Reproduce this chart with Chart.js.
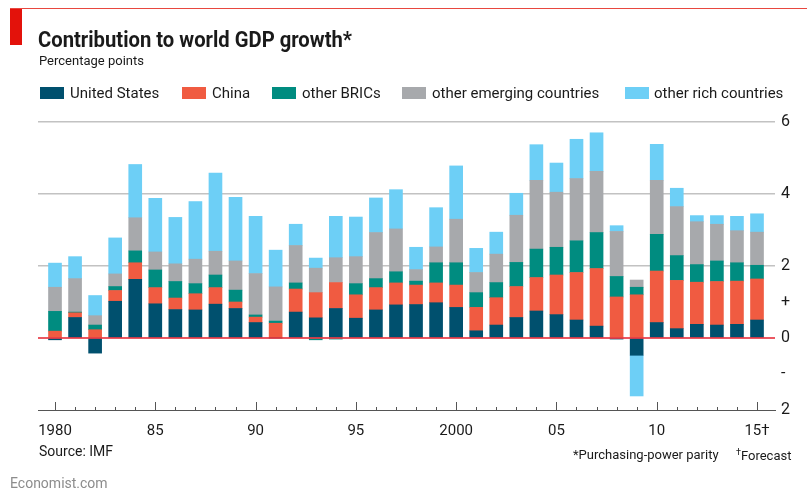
<!DOCTYPE html>
<html>
<head>
<meta charset="utf-8">
<script src="https://cdn.jsdelivr.net/npm/chart.js@4.4.1/dist/chart.umd.min.js"></script>
<style>
  body { margin: 0; background: #fff; }
  #wrap { position: relative; width: 807px; height: 493px; overflow: hidden; font-family: Roboto, "Noto Sans", sans-serif; color: #1a1a1a; }
  #box { position: absolute; left: 0; top: 0; width: 807px; height: 493px; }
  .t { position: absolute; white-space: nowrap; line-height: 1; transform-origin: 0 0; }
  .sw { position: absolute; width: 24px; height: 12px; top: 87px; }
</style>
</head>
<body>
<div id="wrap">
  <div id="box"><canvas id="chart1"></canvas></div>
  <div style="position:absolute;left:10px;top:8px;width:797px;height:1px;background:#e8473f"></div>
  <div style="position:absolute;left:10px;top:9px;width:12px;height:36px;background:#e3120b"></div>
  <div class="t" id="title" style="left:38px;top:28.5px;font-size:22px;font-weight:700">Contribution to world GDP growth*</div>
  <div class="t" style="left:39px;top:54px;font-size:13px">Percentage points</div>

  <div class="sw" style="left:40px;background:#00506e"></div>
  <div class="t" style="left:70px;top:86.4px;font-size:15px">United States</div>
  <div class="sw" style="left:182px;background:#f05b41"></div>
  <div class="t" style="left:212px;top:86.4px;font-size:15px">China</div>
  <div class="sw" style="left:272px;background:#008c80"></div>
  <div class="t" style="left:302px;top:86.4px;font-size:15px">other BRICs</div>
  <div class="sw" style="left:402px;background:#a7a9ac"></div>
  <div class="t" style="left:432px;top:86.4px;font-size:15px">other emerging countries</div>
  <div class="sw" style="left:625px;background:#6dcff6"></div>
  <div class="t" style="left:654px;top:86.4px;font-size:15px">other rich countries</div>

  <div class="t" style="left:39px;top:444px;font-size:14px">Source: IMF</div>
  <div class="t" style="left:573px;top:448px;font-size:13px">*Purchasing-power parity</div>
  <div class="t" style="left:736px;top:448px;font-size:13px"><sup style="font-size:9px">†</sup>Forecast</div>
  <div class="t" style="left:10px;top:476px;font-size:14px;color:#8c8c8c">Economist.com</div>
</div>
<script>
var years = [1980, 1981, 1982, 1983, 1984, 1985, 1986, 1987, 1988, 1989,
             1990, 1991, 1992, 1993, 1994, 1995, 1996, 1997, 1998, 1999,
             2000, 2001, 2002, 2003, 2004, 2005, 2006, 2007, 2008, 2009,
             2010, 2011, 2012, 2013, 2014, 2015];
var unitedStates = [-0.05, 0.57, -0.42, 1.02, 1.63, 0.95, 0.79, 0.78, 0.94, 0.82,
                    0.43, 0.00, 0.72, 0.56, 0.82, 0.55, 0.78, 0.92, 0.93, 0.98,
                    0.85, 0.20, 0.36, 0.57, 0.75, 0.65, 0.50, 0.33, -0.03, -0.48,
                    0.43, 0.26, 0.38, 0.36, 0.38, 0.50];
var china = [0.19, 0.13, 0.23, 0.30, 0.46, 0.45, 0.32, 0.45, 0.46, 0.18,
             0.15, 0.41, 0.64, 0.70, 0.72, 0.65, 0.62, 0.61, 0.54, 0.55,
             0.62, 0.65, 0.76, 0.86, 0.93, 1.10, 1.32, 1.60, 1.14, 1.20,
             1.43, 1.34, 1.17, 1.21, 1.20, 1.14];
var otherBrics = [0.55, 0.02, 0.13, 0.11, 0.33, 0.49, 0.46, 0.28, 0.35, 0.33,
                  0.06, 0.06, 0.17, -0.05, -0.03, 0.31, 0.25, 0.31, 0.11, 0.56,
                  0.62, 0.41, 0.42, 0.67, 0.79, 0.77, 0.88, 1.00, 0.57, 0.21,
                  1.02, 0.69, 0.49, 0.57, 0.51, 0.38];
var otherEmerging = [0.67, 0.93, 0.26, 0.35, 0.92, 0.50, 0.49, 0.68, 0.66, 0.81,
                     1.15, 0.95, 1.04, 0.68, 0.69, 0.75, 1.28, 1.19, 0.32, 0.44,
                     1.21, 0.56, 0.79, 1.31, 1.91, 1.53, 1.73, 1.70, 1.25, 0.20,
                     1.50, 1.36, 1.19, 1.02, 0.89, 0.92];
var otherRich = [0.67, 0.61, 0.56, 1.00, 1.48, 1.49, 1.29, 1.60, 2.17, 1.77,
                 1.59, 1.02, 0.59, 0.28, 1.15, 1.10, 0.96, 1.09, 0.62, 1.09,
                 1.48, 0.67, 0.61, 0.61, 0.99, 0.81, 1.09, 1.07, 0.16, -1.13,
                 1.00, 0.51, 0.17, 0.24, 0.40, 0.51];
var xTickYears = [1980, 1985, 1990, 1995, 2000, 2005, 2010, 2015];
var xTickText = ['1980', '85', '90', '95', '2000', '05', '10', '15†'];
var yTickValues = [6, 4, 2, 1, 0, -1, -2];
var yTickText = ['6', '4', '2', '+', '0', '-', '2'];

// squeeze the title to the width of the original (narrow face)
var ttl = document.getElementById('title');
ttl.style.transform = 'scaleX(' + (314 / ttl.getBoundingClientRect().width) + ')';

var yearMarks = {
    id: 'yearMarks',
    afterDraw: function(chart) {
        var xs = chart.scales.x, c = chart.ctx, bottom = chart.chartArea.bottom;
        c.save();
        c.strokeStyle = '#555';
        c.lineWidth = 1;
        for (var i = 0; i < years.length; i++) {
            var px = Math.round(xs.getPixelForValue(years[i])) + 0.5;
            var h = years[i] % 5 == 0 ? 8 : 3;
            c.beginPath();
            c.moveTo(px, bottom);
            c.lineTo(px, bottom - h);
            c.stroke();
        }
        c.restore();
    }
};

var zeroLine = {
    id: 'zeroLine',
    afterDatasetsDraw: function(chart) {
        var ys = chart.scales.y, c = chart.ctx, a = chart.chartArea;
        var py = ys.getPixelForValue(0);
        c.save();
        c.strokeStyle = '#e5202e';
        c.lineWidth = 1.5;
        c.beginPath();
        c.moveTo(a.left, py);
        c.lineTo(a.right, py);
        c.stroke();
        c.restore();
    }
};

var data = {
    labels: years,
    datasets: [
        { label: 'United States', data: unitedStates, backgroundColor: '#00506e' },
        { label: 'China', data: china, backgroundColor: '#f05b41' },
        { label: 'other BRICs', data: otherBrics, backgroundColor: '#008c80' },
        { label: 'other emerging countries', data: otherEmerging, backgroundColor: '#a7a9ac' },
        { label: 'other rich countries', data: otherRich, backgroundColor: '#6dcff6' }
    ]
};

var options = {
    responsive: true,
    maintainAspectRatio: false,
    animation: false,
    layout: { padding: { left: 38, right: 0, top: 122, bottom: 43 } },
    datasets: { bar: { barThickness: 13, borderWidth: 0 } },
    plugins: { legend: { display: false }, tooltip: { enabled: false } },
    scales: {
        x: {
            type: 'linear',
            stacked: true,
            offset: false,
            min: 1979.152,
            max: 2015.897,
            afterBuildTicks: function(scale) {
                scale.ticks = xTickYears.map(function(v) { return { value: v }; });
            },
            afterFit: function(scale) { scale.height = 40; },
            grid: { display: false, drawTicks: false, offset: false },
            border: { display: true, color: '#555', width: 1 },
            ticks: {
                autoSkip: false,
                maxRotation: 0,
                padding: 12,
                color: '#1a1a1a',
                font: { family: 'Roboto', size: 15 },
                callback: function(value) {
                    var k = xTickYears.indexOf(value);
                    return k < 0 ? '' : xTickText[k];
                }
            }
        },
        y: {
            position: 'right',
            stacked: true,
            min: -2,
            max: 6,
            afterBuildTicks: function(scale) {
                scale.ticks = yTickValues.map(function(v) { return { value: v }; });
            },
            afterFit: function(scale) { scale.width = 32; },
            grid: {
                drawTicks: false,
                lineWidth: 1.5,
                color: function(ctx) {
                    var v = ctx.tick && ctx.tick.value;
                    return (v == 2 || v == 4 || v == 6) ? '#c2c2c2' : 'rgba(0,0,0,0)';
                }
            },
            border: { display: false },
            ticks: {
                padding: 6,
                color: '#1a1a1a',
                font: { family: 'Roboto', size: 16 },
                callback: function(value) {
                    var k = yTickValues.indexOf(value);
                    return k < 0 ? '' : yTickText[k];
                }
            }
        }
    }
};

var ctx = document.getElementById('chart1');
var barChart = new Chart(ctx, {
    type: 'bar',
    data: data,
    options: options,
    plugins: [yearMarks, zeroLine]
});
</script>
</body>
</html>
